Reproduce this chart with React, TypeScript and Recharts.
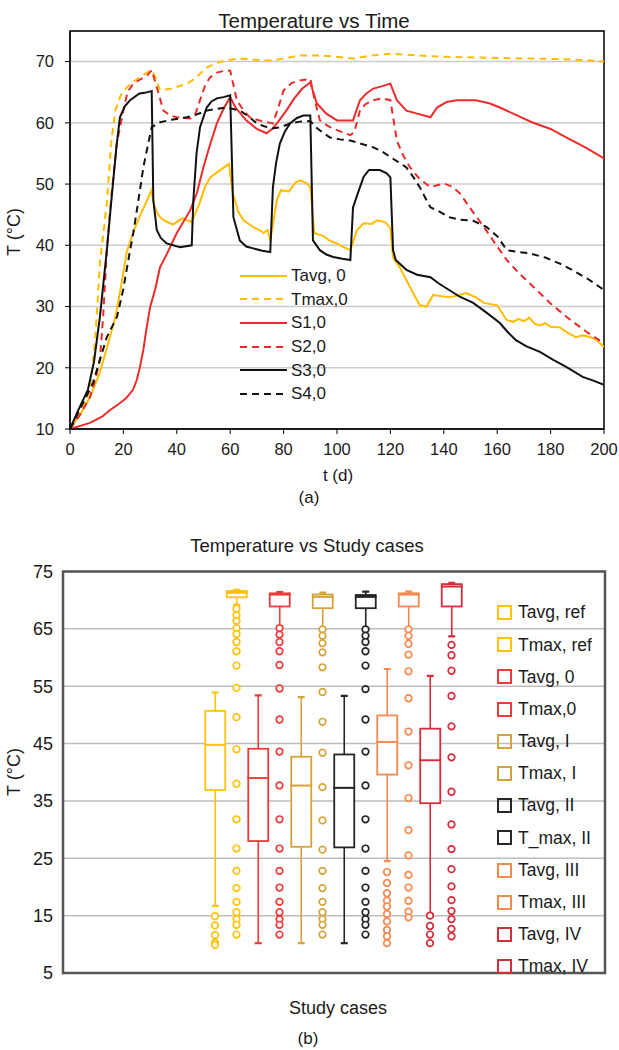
import React from "react";
import {
  Bar,
  CartesianGrid,
  ComposedChart,
  Legend,
  Line,
  LineChart,
  ReferenceArea,
  Scatter,
  XAxis,
  YAxis,
} from "recharts";

type Pt = [number, number];

// ---- (a) temperature vs time, [t (d), T (°C)]
const tavg0: Pt[] = [
  [0, 10], [4, 12.5], [7.5, 15.2], [11, 19], [14, 23.5], [17, 28.3], [19, 33], [21.3, 39], [24, 42.5],
  [26, 44.6], [28.5, 47], [30.5, 49], [31.5, 46.5], [33, 45], [35, 44.1], [38.5, 43.4], [42, 44.4],
  [45.5, 43.8], [48.5, 46.8], [50.5, 49.5], [52.5, 51.1], [56, 52.2], [59.5, 53.3], [61, 48.5], [63, 45.5],
  [65, 44.1], [68.5, 43], [71, 42.5], [72.5, 42], [74, 42.5], [75, 40.8], [77.5, 47.4], [79, 49], [82, 48.8],
  [84.5, 50.3], [86.5, 50.6], [89, 50], [90, 49.5], [91.5, 42], [95, 41.5], [97, 40.8], [100, 40.3],
  [103, 39.6], [105, 39.2], [107.5, 42.5], [110, 43.6], [113, 43.5], [115, 44.1], [118, 43.8], [120, 42.8],
  [121, 38], [123.5, 36.4], [128.5, 32.2], [131, 30.2], [133.5, 30], [136, 31.9], [139, 31.7], [142, 31.5],
  [145, 31.8], [148.5, 32.2], [152, 31.5], [155, 30.6], [160, 30.2], [163.5, 27.8], [166, 27.5], [168, 28],
  [170, 27.6], [172, 28.2], [174, 27.2], [176, 26.9], [178, 27.3], [180, 26.7], [183.5, 26.6], [186, 25.8],
  [189.5, 25], [192, 25.3], [194.8, 25], [197, 24.6], [200, 23.4],
];

const tmax0: Pt[] = [
  [0, 10], [4, 12.5], [7.5, 16.4], [9.5, 25], [11.2, 37], [13.8, 47], [15.5, 57], [17, 62], [19, 64.5],
  [21.3, 65.8], [24, 66.8], [26, 67.4], [28, 68], [30.5, 68.6], [32, 67.5], [33.7, 65.3], [38, 65.6],
  [43.8, 66.4], [47, 67.3], [51, 69], [55, 69.8], [58.7, 70.2], [63, 70.5], [67, 70.4], [72, 70.2],
  [76, 70.2], [80, 70.5], [86, 71], [93.6, 71], [100, 70.8], [106, 70.5], [113, 71], [120, 71.3],
  [130, 71], [140, 70.8], [148.7, 70.7], [160, 70.6], [173, 70.5], [185, 70.4], [195, 70.2], [200, 70],
];

const s1: Pt[] = [
  [0, 10], [7.5, 11], [12, 12], [15, 13.1], [18, 14], [21, 15], [23.6, 16.4], [25, 18], [26.2, 20.1],
  [27.5, 23], [28.5, 26], [30, 29.9], [32, 33], [33.7, 36.4], [36.3, 38.6], [40, 42], [45, 45.7],
  [47.5, 48.5], [50, 52.8], [52.5, 56.5], [55, 59.9], [57.5, 62.3], [60, 64.2], [62, 62.5], [66, 60.4],
  [70, 59], [73.6, 58.3], [76, 59.1], [78, 60.2], [81, 62], [84, 64], [87, 65.6], [90, 66.6], [92.4, 63.2],
  [96, 61.5], [100, 60.4], [106, 60.4], [108.6, 63.7], [111, 64.8], [113.6, 65.6], [117, 66], [120, 66.4],
  [122.4, 63.7], [126, 62], [130, 61.5], [135, 60.9], [137.5, 62.5], [141, 63.4], [145, 63.7], [152, 63.7],
  [157, 63.2], [161, 62.5], [167, 61.3], [173, 60.1], [180, 59], [186, 57.6], [193, 56], [200, 54.2],
];

const s2: Pt[] = [
  [0, 10], [4, 12.5], [7.5, 15.2], [10, 19], [11.2, 21.3], [12.4, 28.3], [13.8, 39.2], [15.5, 48],
  [17.5, 56.6], [20, 62], [21.5, 65], [23.7, 66.4], [26, 67], [28.8, 67.7], [30.6, 68.6], [32.5, 65.8],
  [35, 62], [37.5, 61.2], [40, 60.9], [45, 60.7], [47, 61.5], [48.7, 63.7], [50.5, 66], [52.4, 67.4],
  [55, 68.2], [58.7, 68.6], [60, 68.5], [62.5, 63.7], [65, 62], [67.4, 60.9], [70, 60.5], [73.7, 60.1],
  [76, 59.9], [78, 62.5], [80, 65.3], [83, 66.5], [86, 66.9], [90, 67.2], [91.5, 64], [93.6, 60.4],
  [96.5, 59.5], [100, 58.8], [105, 58], [106.5, 58.5], [108.6, 62], [110.5, 63], [113.6, 63.7], [117, 64],
  [120, 63.7], [122.4, 57.1], [125, 54.5], [127.4, 52.7], [131, 50.8], [135, 49.5], [140, 50.1],
  [143, 49.6], [146, 48.5], [150, 46], [155, 43], [160, 39.8], [163.6, 37.6], [168, 35.5], [173.6, 33.2],
  [180, 30.5], [186, 28.3], [193, 26], [200, 24],
];

const s3: Pt[] = [
  [0, 10], [3, 13], [6.7, 16.4], [9, 21], [11.2, 28.3], [13.8, 39.2], [15, 45], [16.2, 50.6], [17.5, 56.5],
  [18.7, 60.9], [20.5, 62.7], [22.5, 63.7], [26, 64.8], [28, 64.9], [30.6, 65.2], [31.2, 47.4], [32.5, 42.5],
  [34, 41.2], [36.2, 40.3], [41.2, 39.7], [45.6, 40], [46.2, 47.4], [47.4, 55], [48.7, 59.3], [51.2, 62.5],
  [53, 63.5], [55, 64], [57.5, 64.2], [60, 64.5], [61.2, 44.6], [63.6, 40.8], [66, 39.8], [68.6, 39.5],
  [72, 39.1], [75, 38.9], [76, 49.5], [77.2, 53.5], [78.6, 56.6], [80.5, 58.6], [82.4, 59.9], [85, 60.8],
  [87.4, 61.2], [90, 61.2], [91, 40.8], [93.6, 39.2], [96, 38.5], [98.6, 38.1], [102, 37.8], [105, 37.6],
  [106, 46.2], [108.6, 49.5], [110, 51.2], [112, 52.3], [116, 52.3], [118.5, 51.8], [120, 51.1], [121, 39.2],
  [122, 37.6], [126, 36], [130, 35.2], [135, 34.8], [138, 33.8], [142, 32.7], [146, 31.6], [151, 30.6],
  [156, 29], [161, 27.3], [164, 25.8], [167, 24.5], [171, 23.5], [176, 22.6], [181, 21.3], [186, 20.1],
  [192, 18.5], [196, 17.9], [200, 17.2],
];

const s4: Pt[] = [
  [0, 10], [4, 13.5], [8.6, 17.5], [11, 21], [13.8, 25], [17.6, 28.3], [19.9, 32.7], [22.5, 39.2],
  [23.7, 42], [25.5, 47], [27.5, 52.8], [29, 56], [30.6, 59.3], [33.7, 60.1], [38, 60.5], [43.8, 60.9],
  [47, 61.3], [51.2, 62], [55, 62.3], [58.8, 62.5], [63.7, 62], [67, 61], [70, 59.9], [73, 59.4], [76, 59.1],
  [79, 59.3], [82.4, 59.9], [86, 60.2], [90, 60.3], [92, 59.3], [95, 58.3], [97.4, 57.6], [101, 57.3],
  [105, 57.1], [109, 56.6], [113.6, 56], [117, 55.3], [120, 54.4], [123, 53.6], [126, 52.7], [128.5, 51.2],
  [131, 49.5], [133, 47.8], [135, 46.2], [138, 45.6], [142, 44.6], [146, 44.2], [151, 44], [156, 43],
  [160, 41.5], [163.6, 39.2], [168, 38.9], [172, 38.7], [178, 38], [183.5, 37], [188, 36], [194, 34.5],
  [200, 32.7],
];

const timeTicks = [0, 20, 40, 60, 80, 100, 120, 140, 160, 180, 200];
const tempTicks = [10, 20, 30, 40, 50, 60, 70];

const ORANGE = "#FFBC00";
const RED = "#EE2B2B";
const BLACK = "#111111";

const timeSeries = [
  { name: "Tavg, 0", points: tavg0, color: ORANGE, dash: undefined },
  { name: "Tmax,0", points: tmax0, color: ORANGE, dash: "7 5" },
  { name: "S1,0", points: s1, color: RED, dash: undefined },
  { name: "S2,0", points: s2, color: RED, dash: "7 5" },
  { name: "S3,0", points: s3, color: BLACK, dash: undefined },
  { name: "S4,0", points: s4, color: BLACK, dash: "7 5" },
];

// ---- (b) temperature vs study cases
const caseNames = [
  "Tavg, ref", "Tmax, ref", "Tavg, 0", "Tmax,0", "Tavg, I", "Tmax, I",
  "Tavg, II", "T_max, II", "Tavg, III", "Tmax, III", "Tavg, IV", "Tmax, IV",
];
const caseColors = [
  "#FFC20E", "#FFC20E", "#F03A3A", "#F03A3A", "#D4A43C", "#D4A43C",
  "#262626", "#262626", "#F7894F", "#F7894F", "#D42D3C", "#D42D3C",
];
const whiskerLow = [16.7, 69.2, 10.2, 65.4, 10.2, 64.9, 10.2, 65.1, 24.5, 65.1, 15.3, 63.7];
const q1 = [36.9, 70.5, 28.0, 68.9, 27.0, 68.6, 26.9, 68.6, 39.6, 68.9, 34.6, 68.9];
const median = [44.8, 71.3, 39.0, 71.0, 37.7, 70.6, 37.3, 70.6, 45.3, 71.0, 42.1, 72.4];
const q3 = [50.7, 71.6, 44.1, 71.2, 42.7, 71.0, 43.1, 70.9, 49.9, 71.2, 47.6, 72.8];
const whiskerHigh = [53.9, 71.8, 53.4, 71.4, 53.1, 71.3, 53.3, 71.5, 58.0, 71.5, 56.8, 73.0];
const outliers: number[][] = [
  [14.9, 13.3, 11.6, 10.3, 9.9],
  [68.5, 67.4, 66.4, 65.1, 64.1, 62.7, 61.1, 58.6, 54.7, 49.6, 44.0, 38.0, 31.8, 26.7, 22.8, 19.8, 17.4, 15.6, 14.4, 13.4, 11.7],
  [],
  [65.1, 64.0, 62.7, 61.1, 58.7, 54.6, 49.2, 43.6, 37.7, 31.8, 26.7, 22.8, 19.9, 17.4, 15.6, 14.4, 13.4, 11.7],
  [],
  [64.9, 63.8, 62.5, 60.9, 58.3, 54.0, 48.8, 43.4, 37.4, 31.6, 26.5, 22.8, 19.8, 17.4, 15.6, 14.4, 13.4, 11.7],
  [],
  [64.9, 63.8, 62.7, 61.1, 58.6, 54.5, 49.2, 43.6, 37.7, 31.8, 26.7, 22.8, 19.9, 17.4, 15.6, 14.4, 13.4, 11.7],
  [22.6, 20.7, 18.9, 17.6, 16.6, 15.3, 14.0, 12.5, 11.4, 10.2],
  [64.9, 63.8, 62.4, 60.5, 57.6, 52.9, 47.1, 41.2, 35.5, 29.9, 25.5, 22.1, 19.9, 17.6, 15.7, 14.7],
  [15.0, 13.2, 11.7, 10.2],
  [62.2, 60.4, 57.7, 53.3, 48.0, 42.6, 36.6, 30.9, 26.6, 23.1, 20.1, 17.7, 15.8, 14.4, 12.7, 11.4],
];
const caseTempTicks = [5, 15, 25, 35, 45, 55, 65, 75];

const boxRows = caseNames.map((name, i) => ({
  pos: i,
  name,
  base: whiskerLow[i],
  lowW: q1[i] - whiskerLow[i],
  lowBox: median[i] - q1[i],
  highBox: q3[i] - median[i],
  highW: whiskerHigh[i] - q3[i],
}));

// boxes sit in the middle of the frame, legend on the right
const CASE_DOMAIN: [number, number] = [-7.07, 18.14];

const TEXT = "#1a1a1a";
const FONT = "'Liberation Sans', Arial, sans-serif";

const colorOf = (p: any) => caseColors[p?.payload?.pos ?? p.index ?? 0];

const EmptyShape = () => <g />;

const lowWhisker = (p: any) => {
  const c = colorOf(p);
  const cx = p.x + p.width / 2;
  const yb = p.y + p.height;
  return (
    <g>
      <line x1={cx} x2={cx} y1={p.y} y2={yb} stroke={c} strokeWidth={1.6} />
      <line x1={cx - 3.5} x2={cx + 3.5} y1={yb} y2={yb} stroke={c} strokeWidth={2.2} />
    </g>
  );
};

const highWhisker = (p: any) => {
  const c = colorOf(p);
  const cx = p.x + p.width / 2;
  return (
    <g>
      <line x1={cx} x2={cx} y1={p.y} y2={p.y + p.height} stroke={c} strokeWidth={1.6} />
      <line x1={cx - 3.5} x2={cx + 3.5} y1={p.y} y2={p.y} stroke={c} strokeWidth={2.2} />
    </g>
  );
};

const boxHalf = (p: any) => (
  <rect x={p.x} y={p.y} width={p.width} height={Math.max(p.height, 0)} fill="#fff" stroke={colorOf(p)} strokeWidth={1.8} />
);

const outlierShape = (color: string) => (p: any) => (
  <circle cx={p.cx} cy={p.cy} r={3.3} fill="#fff" stroke={color} strokeWidth={1.7} />
);

const TimeLegend = () => (
  <div style={{ display: "flex", flexDirection: "column", fontFamily: FONT }}>
    {timeSeries.map((s) => (
      <div key={s.name} style={{ height: 23.6, display: "flex", alignItems: "center" }}>
        <svg width={48} height={10}>
          <line x1={0} x2={47} y1={5} y2={5} stroke={s.color} strokeWidth={2} strokeDasharray={s.dash} />
        </svg>
        <span style={{ marginLeft: 3, fontSize: 17, color: TEXT, lineHeight: 1 }}>{s.name}</span>
      </div>
    ))}
  </div>
);

const CaseLegend = () => (
  <div style={{ display: "flex", flexDirection: "column", fontFamily: FONT }}>
    {caseNames.map((n, i) => (
      <div key={n} style={{ height: 32.2, display: "flex", alignItems: "center" }}>
        <svg width={16} height={16}>
          <rect x={1} y={1} width={13} height={13} fill="none" stroke={caseColors[i]} strokeWidth={2} />
        </svg>
        <span style={{ marginLeft: 5, fontSize: 17.5, color: TEXT, lineHeight: 1 }}>{n}</span>
      </div>
    ))}
  </div>
);

const Caption = ({ text, cx, cy, size, rotate }: { text: string; cx: number; cy: number; size: number; rotate?: boolean }) => (
  <div
    style={{
      position: "absolute",
      left: cx - 150,
      top: cy - size / 2,
      width: 300,
      textAlign: "center",
      fontSize: size,
      lineHeight: 1,
      color: TEXT,
      whiteSpace: "nowrap",
      transform: rotate ? "rotate(-90deg)" : undefined,
      transformOrigin: "50% 50%",
    }}
  >
    {text}
  </div>
);

export default function App() {
  return (
    <div style={{ position: "absolute", left: 0, top: 0, width: 619, height: 1050, background: "#fff", fontFamily: FONT }}>
      <Caption text="Temperature vs Time" cx={314} cy={21} size={20.5} />
      <Caption text="T (°C)" cx={14} cy={232} size={18} rotate />
      <Caption text="t (d)" cx={338} cy={475} size={17} />
      <Caption text="(a)" cx={309} cy={497} size={17} />

      <div style={{ position: "absolute", left: 0, top: 0 }}>
        <LineChart width={619} height={520} margin={{ top: 31, right: 15, bottom: 0, left: 0 }}>
          <CartesianGrid vertical={false} stroke="#cccccc" strokeWidth={1.5} />
          <XAxis
            type="number"
            dataKey="t"
            domain={[0, 200]}
            ticks={timeTicks}
            allowDataOverflow
            height={91}
            stroke="#000"
            tick={{ fill: TEXT, fontSize: 16.5 }}
            tickSize={5}
            tickMargin={9}
          />
          <YAxis
            type="number"
            domain={[10, 75]}
            ticks={tempTicks}
            allowDataOverflow
            width={70}
            stroke="#000"
            tick={{ fill: TEXT, fontSize: 16.5 }}
            tickSize={5}
            tickMargin={11}
          />
          <ReferenceArea x1={0} x2={200} y1={10} y2={75} fill="none" stroke="#000" strokeWidth={1.5} />
          {timeSeries.map((s) => (
            <Line
              key={s.name}
              name={s.name}
              data={s.points.map(([t, v]) => ({ t, v }))}
              dataKey="v"
              type="linear"
              stroke={s.color}
              strokeWidth={2}
              strokeDasharray={s.dash}
              dot={false}
              isAnimationActive={false}
            />
          ))}
          <Legend
            layout="vertical"
            align="center"
            verticalAlign="middle"
            content={() => <TimeLegend />}
            wrapperStyle={{ left: 240, top: 264, width: 130 }}
          />
        </LineChart>
      </div>

      <Caption text="Temperature vs Study cases" cx={307} cy={546} size={18.5} />
      <Caption text="T (°C)" cx={14} cy={772} size={18} rotate />
      <Caption text="Study cases" cx={338} cy={1008} size={18} />
      <Caption text="(b)" cx={308} cy={1038} size={17} />

      <div style={{ position: "absolute", left: 0, top: 520 }}>
        <ComposedChart width={619} height={530} data={boxRows} margin={{ top: 51.5, right: 14, bottom: 77, left: 0 }}>
          <CartesianGrid vertical={false} stroke="#bdbdbd" strokeWidth={1.5} />
          <XAxis type="number" dataKey="pos" domain={CASE_DOMAIN} ticks={boxRows.map((r) => r.pos)} allowDataOverflow hide />
          <YAxis
            type="number"
            domain={[5, 75]}
            ticks={caseTempTicks}
            allowDataOverflow
            width={63}
            axisLine={false}
            tickLine={false}
            tickSize={0}
            tickMargin={10}
            tick={{ fill: TEXT, fontSize: 18 }}
          />
          <ReferenceArea x1={CASE_DOMAIN[0]} x2={CASE_DOMAIN[1]} y1={5} y2={75} fill="none" stroke="#555" strokeWidth={2.5} />
          <Bar dataKey="base" stackId="box" barSize={20} shape={EmptyShape} isAnimationActive={false} />
          <Bar dataKey="lowW" stackId="box" barSize={20} shape={lowWhisker} isAnimationActive={false} />
          <Bar dataKey="lowBox" stackId="box" barSize={20} shape={boxHalf} isAnimationActive={false} />
          <Bar dataKey="highBox" stackId="box" barSize={20} shape={boxHalf} isAnimationActive={false} />
          <Bar dataKey="highW" stackId="box" barSize={20} shape={highWhisker} isAnimationActive={false} />
          {outliers.map((vals, i) => (
            <Scatter
              key={caseNames[i]}
              name={caseNames[i]}
              data={vals.map((v) => ({ pos: i, v }))}
              dataKey="v"
              shape={outlierShape(caseColors[i])}
              isAnimationActive={false}
            />
          ))}
          <Legend
            layout="vertical"
            align="center"
            verticalAlign="middle"
            content={() => <CaseLegend />}
            wrapperStyle={{ left: 497, top: 77, width: 120 }}
          />
        </ComposedChart>
      </div>
    </div>
  );
}
